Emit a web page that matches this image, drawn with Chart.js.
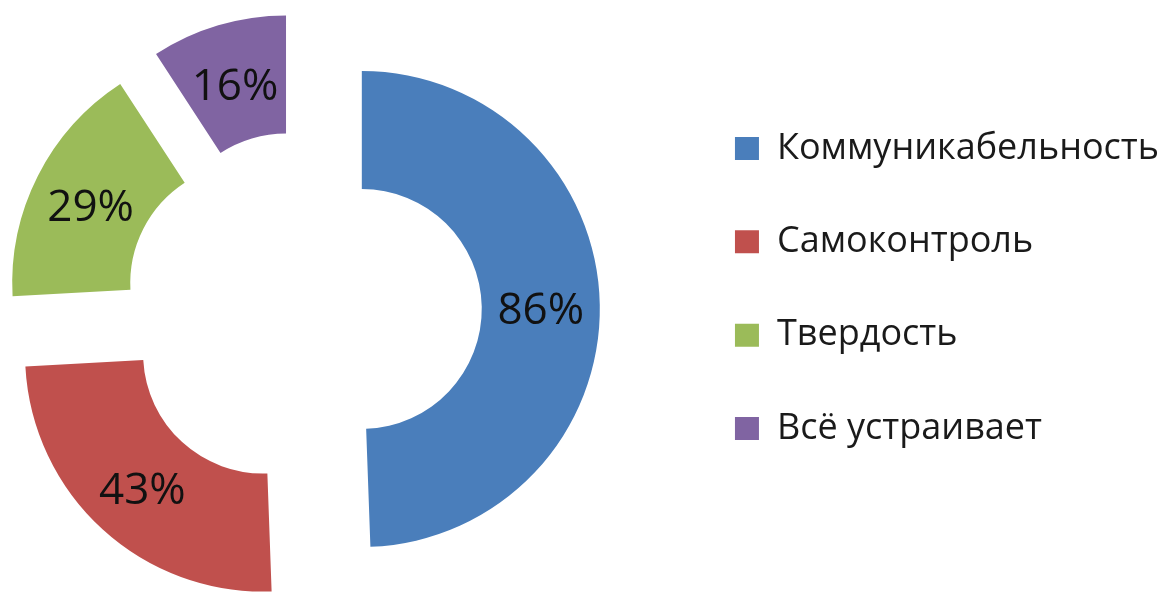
<!DOCTYPE html>
<html>
<head>
<meta charset="utf-8">
<script src="https://cdn.jsdelivr.net/npm/chart.js@4/dist/chart.umd.min.js"></script>
<style>
  html, body { margin: 0; padding: 0; background: #ffffff; }
  #c { display: block; }
</style>
</head>
<body>
<canvas id="c" width="1169" height="592"></canvas>
<script>
// ---- data ----
const categories = ['Коммуникабельность', 'Самоконтроль', 'Твердость', 'Всё устраивает'];
const values = [86, 43, 29, 16];
const valueSuffix = '%';
const colors = ['#4A7EBB', '#C0504D', '#9BBB59', '#8064A2'];

// exploded slices: move each arc outward along its middle angle
const explodePlugin = {
  id: 'explode',
  afterDatasetsUpdate(chart, args, opts) {
    const d = opts.distance || 0;
    chart.getDatasetMeta(0).data.forEach(el => {
      const mid = (el.startAngle + el.endAngle) / 2;
      el.x += Math.cos(mid) * d;
      el.y += Math.sin(mid) * d;
    });
  }
};

// value labels in the middle of each slice
const valueLabelsPlugin = {
  id: 'valueLabels',
  afterDatasetsDraw(chart, args, opts) {
    const ctx = chart.ctx;
    const ds = chart.data.datasets[0];
    ctx.save();
    ctx.font = opts.font;
    ctx.fillStyle = opts.color;
    ctx.textAlign = 'center';
    ctx.textBaseline = 'middle';
    chart.getDatasetMeta(0).data.forEach((el, i) => {
      const p = el.getCenterPoint();
      ctx.fillText(ds.data[i] + valueSuffix, p.x, p.y + opts.dy);
    });
    ctx.restore();
  }
};

new Chart(document.getElementById('c'), {
  type: 'doughnut',
  data: {
    labels: categories,
    datasets: [{
      data: values,
      backgroundColor: colors,
      borderWidth: 0,
      hoverOffset: 0
    }]
  },
  options: {
    responsive: false,
    devicePixelRatio: 1,
    animation: false,
    radius: 238,
    cutout: '50.4%',
    layout: { padding: { left: 0, right: 0, top: 73, bottom: 45 } },
    plugins: {
      legend: {
        position: 'right',
        align: 'start',
        maxWidth: 560,
        labels: {
          boxWidth: 24,
          boxHeight: 23,
          padding: 57.4,
          color: '#1a1a1a',
          font: { family: '"Open Sans", sans-serif', size: 36 }
        }
      },
      title: {
        display: true,
        position: 'right',
        weight: 500,
        text: '',
        padding: { top: 57.5, bottom: 0 }
      },
      tooltip: { enabled: false },
      explode: { distance: 59 },
      valueLabels: { font: '44px "Open Sans", sans-serif', color: '#111111', dy: 6 }
    }
  },
  plugins: [explodePlugin, valueLabelsPlugin]
});
</script>
</body>
</html>
